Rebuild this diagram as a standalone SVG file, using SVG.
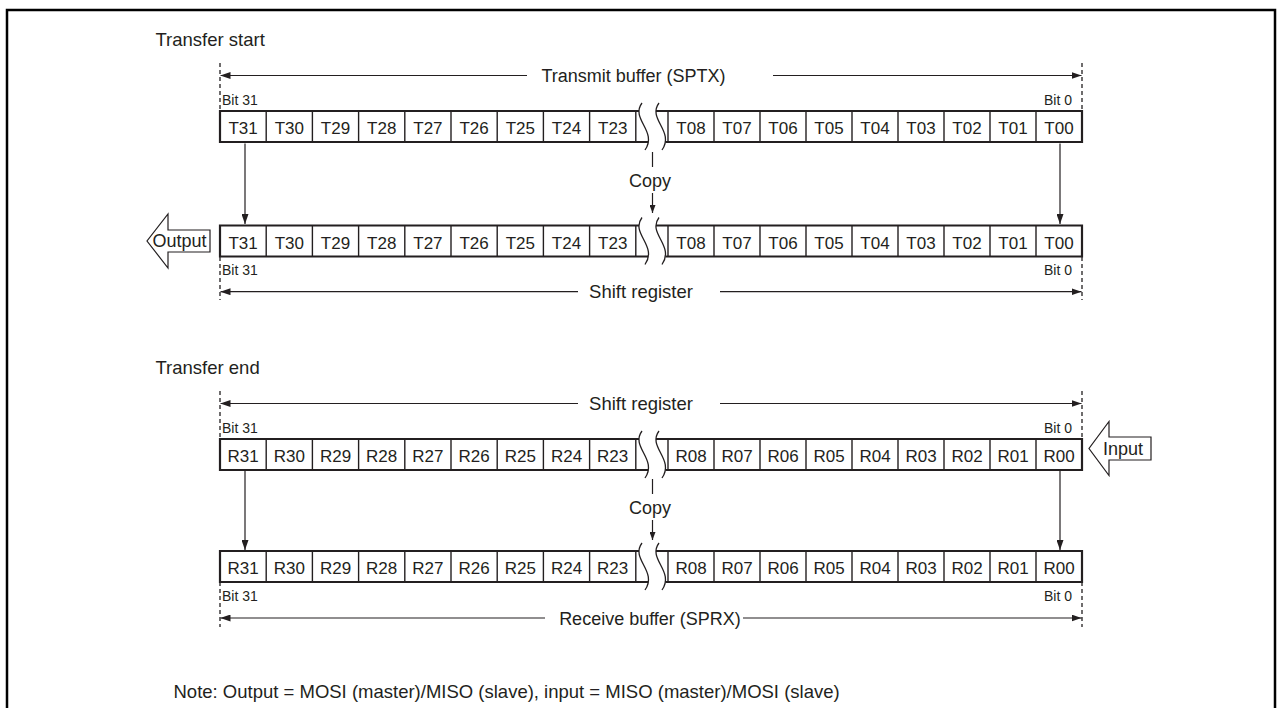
<svg xmlns="http://www.w3.org/2000/svg" width="1283" height="708" viewBox="0 0 1283 708">
<style>
text{font-family:"Liberation Sans",Arial,Helvetica,sans-serif;fill:#231f20}
.lbl{font-size:18.5px}
.lbs{font-size:18px}
.cell{font-size:17px;text-anchor:middle}
.bit{font-size:14px}
.bitr{font-size:14px;text-anchor:end}
.mid{text-anchor:middle}
.outer{fill:none;stroke:#231f20;stroke-width:2.2}
.div{stroke:#231f20;stroke-width:1.4}
.wave{fill:none;stroke:#231f20;stroke-width:1.3}
.dash{stroke:#231f20;stroke-width:1.3;stroke-dasharray:4 3}
.dim{stroke:#231f20;stroke-width:1.2;fill:none;marker-end:url(#ah)}
.ln{stroke:#231f20;stroke-width:1.2;fill:none}
.vArr{stroke:#231f20;stroke-width:1.2;fill:none;marker-end:url(#ah)}
.big{fill:#fff;stroke:#231f20;stroke-width:1.2}
</style>
<defs>
<marker id="ah" markerUnits="userSpaceOnUse" markerWidth="10" markerHeight="7" refX="10" refY="3.5" orient="auto">
<path d="M0,0 L10,3.5 L0,7 z" fill="#231f20"/>
</marker>
<marker id="ahs" markerUnits="userSpaceOnUse" markerWidth="8" markerHeight="6" refX="8" refY="3" orient="auto">
<path d="M0,0 L8,3 L0,6 z" fill="#231f20"/>
</marker>
<g id="cellsL">
<line class="div" x1="266.2" y1="0" x2="266.2" y2="31"/>
<line class="div" x1="312.4" y1="0" x2="312.4" y2="31"/>
<line class="div" x1="358.6" y1="0" x2="358.6" y2="31"/>
<line class="div" x1="404.8" y1="0" x2="404.8" y2="31"/>
<line class="div" x1="451" y1="0" x2="451" y2="31"/>
<line class="div" x1="497.2" y1="0" x2="497.2" y2="31"/>
<line class="div" x1="543.4" y1="0" x2="543.4" y2="31"/>
<line class="div" x1="589.6" y1="0" x2="589.6" y2="31"/>
<line class="div" x1="635.8" y1="0" x2="635.8" y2="31"/>
<line class="div" x1="668" y1="0" x2="668" y2="31"/>
<line class="div" x1="714" y1="0" x2="714" y2="31"/>
<line class="div" x1="760" y1="0" x2="760" y2="31"/>
<line class="div" x1="806" y1="0" x2="806" y2="31"/>
<line class="div" x1="852" y1="0" x2="852" y2="31"/>
<line class="div" x1="898" y1="0" x2="898" y2="31"/>
<line class="div" x1="944" y1="0" x2="944" y2="31"/>
<line class="div" x1="990" y1="0" x2="990" y2="31"/>
<line class="div" x1="1036" y1="0" x2="1036" y2="31"/>
<path class="outer" d="M639,0 H220 V31 H648.4"/>
<path class="outer" d="M656,0 H1082 V31 H665.4"/>
<path class="wave" d="M642,-8 C630,8 658,20 645,39"/>
<path class="wave" d="M659,-8 C647,8 675,20 662,39"/>
</g>
</defs>

<rect x="7" y="10" width="1268" height="720" fill="none" stroke="#000" stroke-width="2.5"/>

<text class="lbl" x="155.5" y="46">Transfer start</text>
<text class="lbl" x="155.5" y="374">Transfer end</text>

<g id="connectors">
<line class="dash" x1="220" y1="63" x2="220" y2="111"/>
<line class="dash" x1="1082" y1="63" x2="1082" y2="111"/>
<line class="dim" x1="527" y1="75.5" x2="220.5" y2="75.5"/>
<line class="dim" x1="773" y1="75.5" x2="1081.5" y2="75.5"/>
<line class="vArr" x1="245" y1="143.5" x2="245" y2="224"/>
<line class="vArr" x1="1060" y1="143.5" x2="1060" y2="224"/>
<line class="ln" x1="652.5" y1="152" x2="652.5" y2="167"/>
<line class="ln" x1="652.5" y1="193" x2="652.5" y2="213" marker-end="url(#ahs)"/>
<line class="dash" x1="220" y1="257" x2="220" y2="300"/>
<line class="dash" x1="1082" y1="257" x2="1082" y2="300"/>
<line class="dim" x1="578" y1="291.7" x2="220.5" y2="291.7"/>
<line class="dim" x1="720" y1="291.7" x2="1081.5" y2="291.7"/>
<line class="dash" x1="220" y1="391" x2="220" y2="439"/>
<line class="dash" x1="1082" y1="391" x2="1082" y2="439"/>
<line class="dim" x1="578" y1="403.5" x2="220.5" y2="403.5"/>
<line class="dim" x1="720" y1="403.5" x2="1081.5" y2="403.5"/>
<line class="vArr" x1="245" y1="471" x2="245" y2="550"/>
<line class="vArr" x1="1060" y1="471" x2="1060" y2="550"/>
<line class="ln" x1="652.5" y1="479" x2="652.5" y2="494"/>
<line class="ln" x1="652.5" y1="520" x2="652.5" y2="540" marker-end="url(#ahs)"/>
<line class="dash" x1="220" y1="582" x2="220" y2="627"/>
<line class="dash" x1="1082" y1="582" x2="1082" y2="627"/>
<line class="dim" x1="545" y1="618" x2="220.5" y2="618"/>
<line class="dim" x1="743" y1="618" x2="1081.5" y2="618"/>
</g>

<text class="lbs mid" x="633.5" y="82">Transmit buffer (SPTX)</text>
<text class="lbl mid" x="641" y="298">Shift register</text>
<text class="lbl mid" x="641" y="410">Shift register</text>
<text class="lbs mid" x="650" y="624.5">Receive buffer (SPRX)</text>
<text class="lbs mid" x="650" y="187">Copy</text>
<text class="lbs mid" x="650" y="514">Copy</text>

<text class="bit" x="222" y="105">Bit 31</text>
<text class="bitr" x="1072" y="105">Bit 0</text>
<text class="bit" x="222" y="275">Bit 31</text>
<text class="bitr" x="1072" y="275">Bit 0</text>
<text class="bit" x="222" y="433">Bit 31</text>
<text class="bitr" x="1072" y="433">Bit 0</text>
<text class="bit" x="222" y="601">Bit 31</text>
<text class="bitr" x="1072" y="601">Bit 0</text>

<g id="sptx">
<use href="#cellsL" x="0" y="111"/>
<text class="cell" y="134"><tspan x="243.1">T31</tspan><tspan x="289.3">T30</tspan><tspan x="335.5">T29</tspan><tspan x="381.7">T28</tspan><tspan x="427.9">T27</tspan><tspan x="474.1">T26</tspan><tspan x="520.3">T25</tspan><tspan x="566.5">T24</tspan><tspan x="612.7">T23</tspan><tspan x="691">T08</tspan><tspan x="737">T07</tspan><tspan x="783">T06</tspan><tspan x="829">T05</tspan><tspan x="875">T04</tspan><tspan x="921">T03</tspan><tspan x="967">T02</tspan><tspan x="1013">T01</tspan><tspan x="1059">T00</tspan></text>
</g>

<g id="shift-tx">
<use href="#cellsL" x="0" y="225.5"/>
<text class="cell" y="248.5"><tspan x="243.1">T31</tspan><tspan x="289.3">T30</tspan><tspan x="335.5">T29</tspan><tspan x="381.7">T28</tspan><tspan x="427.9">T27</tspan><tspan x="474.1">T26</tspan><tspan x="520.3">T25</tspan><tspan x="566.5">T24</tspan><tspan x="612.7">T23</tspan><tspan x="691">T08</tspan><tspan x="737">T07</tspan><tspan x="783">T06</tspan><tspan x="829">T05</tspan><tspan x="875">T04</tspan><tspan x="921">T03</tspan><tspan x="967">T02</tspan><tspan x="1013">T01</tspan><tspan x="1059">T00</tspan></text>
</g>

<g id="shift-rx">
<use href="#cellsL" x="0" y="439"/>
<text class="cell" y="462"><tspan x="243.1">R31</tspan><tspan x="289.3">R30</tspan><tspan x="335.5">R29</tspan><tspan x="381.7">R28</tspan><tspan x="427.9">R27</tspan><tspan x="474.1">R26</tspan><tspan x="520.3">R25</tspan><tspan x="566.5">R24</tspan><tspan x="612.7">R23</tspan><tspan x="691">R08</tspan><tspan x="737">R07</tspan><tspan x="783">R06</tspan><tspan x="829">R05</tspan><tspan x="875">R04</tspan><tspan x="921">R03</tspan><tspan x="967">R02</tspan><tspan x="1013">R01</tspan><tspan x="1059">R00</tspan></text>
</g>

<g id="sprx">
<use href="#cellsL" x="0" y="551"/>
<text class="cell" y="574"><tspan x="243.1">R31</tspan><tspan x="289.3">R30</tspan><tspan x="335.5">R29</tspan><tspan x="381.7">R28</tspan><tspan x="427.9">R27</tspan><tspan x="474.1">R26</tspan><tspan x="520.3">R25</tspan><tspan x="566.5">R24</tspan><tspan x="612.7">R23</tspan><tspan x="691">R08</tspan><tspan x="737">R07</tspan><tspan x="783">R06</tspan><tspan x="829">R05</tspan><tspan x="875">R04</tspan><tspan x="921">R03</tspan><tspan x="967">R02</tspan><tspan x="1013">R01</tspan><tspan x="1059">R00</tspan></text>
</g>

<g id="output">
<polygon class="big" points="210,230 168,230 168,214 147,241 168,268 168,252 210,252"/>
<text class="lbs" x="152.5" y="247">Output</text>
</g>

<g id="input">
<polygon class="big" points="1151,437 1109,437 1109,421.5 1089,448.5 1109,475.5 1109,460 1151,460"/>
<text class="lbs" x="1103" y="455">Input</text>
</g>

<text class="lbl" x="173.5" y="698">Note: Output = MOSI (master)/MISO (slave), input = MISO (master)/MOSI (slave)</text>
</svg>
